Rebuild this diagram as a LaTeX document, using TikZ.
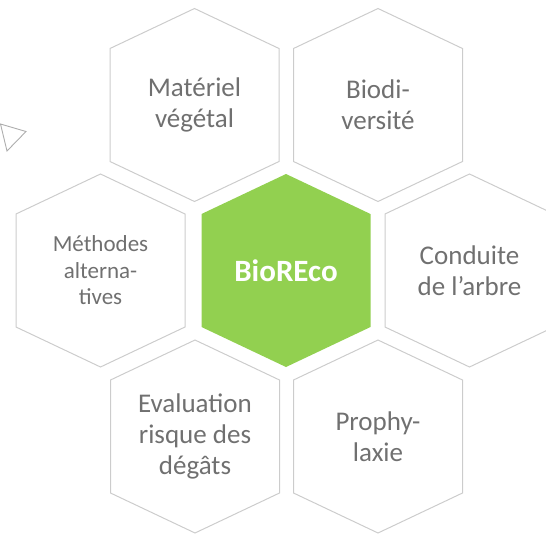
\documentclass[tikz,border=0pt]{standalone}
\usepackage{fontspec}
\setmainfont{Carlito}
\definecolor{hexgrey}{HTML}{CCCCCC}
\definecolor{txtgrey}{HTML}{707070}
\definecolor{biogreen}{HTML}{92D050}
\begin{document}
\begin{tikzpicture}[x=1pt,y=-1pt,
  hexline/.style={draw=hexgrey, line width=1pt, line join=miter},
  hexfill/.style={fill=biogreen, draw=none},
  lbl/.style={text=txtgrey, align=center, inner sep=0pt, font=\fontsize{27}{31}\selectfont},
  lblsmall/.style={lbl, font=\fontsize{23}{26.5}\selectfont},
  lblcentre/.style={text=white, align=center, inner sep=0pt, font=\bfseries\fontsize{31}{35}\selectfont},
  hexa/.pic={\path[pic actions] (0,-96.5) -- (84.5,-56.5) -- (84.5,56.5) -- (0,96.5) -- (-84.5,56.5) -- (-84.5,-56.5) -- cycle;}]
\clip (0,0) rectangle (546,533);
% hexagons
\pic[hexline] at (194.5,105) {hexa};
\pic[hexline] at (378,105) {hexa};
\pic[hexline] at (100.5,270.5) {hexa};
\pic[hexfill] at (286,270.5) {hexa};
\pic[hexline] at (469.5,270.5) {hexa};
\pic[hexline] at (195,436.5) {hexa};
\pic[hexline] at (378,436.5) {hexa};
% small triangle
\draw[draw=hexgrey!85!black, line width=0.9pt, line join=miter] (0.5,124) -- (26,131.5) -- (7,151) -- cycle;
% labels
\node[lbl] (mat) at (194.5,105) {Matériel\\végétal};
\node[lbl] (bio) at (378,105) {Biodi-\\versité};
\node[lblsmall] (met) at (100.5,270.5) {Méthodes\\alterna-\\tives};
\node[lblcentre] (core) at (286,270.5) {BioREco};
\node[lbl] (con) at (469.5,270.5) {Conduite\\de l’arbre};
\node[lbl] (eva) at (195,436.5) {Evaluation\\risque des\\dégâts};
\node[lbl] (pro) at (378,436.5) {Prophy-\\laxie};
\end{tikzpicture}
\end{document}
